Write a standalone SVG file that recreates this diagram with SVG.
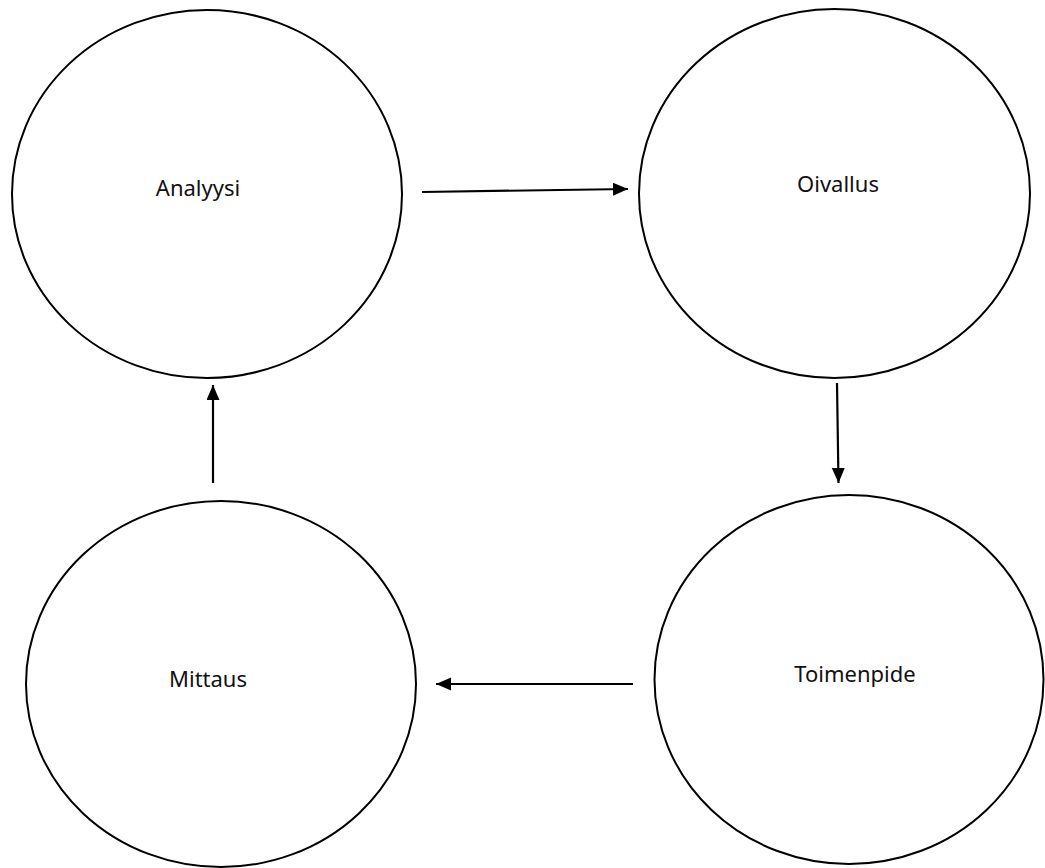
<svg xmlns="http://www.w3.org/2000/svg" width="1045" height="868" viewBox="0 0 1045 868">
  <style>
    .node ellipse { fill: #ffffff; stroke: #000000; stroke-width: 2; }
    .node text { font-family: "Noto Sans", "Open Sans", sans-serif; font-size: 22px; fill: #111111; text-anchor: middle; }
    .conn line { stroke: #000000; stroke-width: 2.2; fill: none; marker-end: url(#arrow); }
  </style>
  <defs>
    <marker id="arrow" markerUnits="userSpaceOnUse" markerWidth="16" markerHeight="14" refX="15" refY="6.5" orient="auto">
      <path d="M0,0 L15,6.5 L0,13 z" fill="#000000"/>
    </marker>
  </defs>
  <rect width="1045" height="868" fill="#ffffff"/>
  <g id="node-analyysi" class="node">
    <ellipse cx="207" cy="194" rx="195" ry="184"/>
    <text x="198" y="196">Analyysi</text>
  </g>
  <g id="node-oivallus" class="node">
    <ellipse cx="834.5" cy="193.5" rx="195.5" ry="184.5"/>
    <text x="838" y="192">Oivallus</text>
  </g>
  <g id="node-toimenpide" class="node">
    <ellipse cx="849" cy="679.5" rx="194.5" ry="184.5"/>
    <text x="855" y="682">Toimenpide</text>
  </g>
  <g id="node-mittaus" class="node">
    <ellipse cx="221" cy="684" rx="195" ry="183"/>
    <text x="208" y="687">Mittaus</text>
  </g>
  <g id="connectors" class="conn">
    <line x1="422" y1="192" x2="628" y2="189"/>
    <line x1="837" y1="383" x2="838.5" y2="483"/>
    <line x1="633" y1="684" x2="436" y2="684"/>
    <line x1="213" y1="483" x2="213" y2="385"/>
  </g>
</svg>
